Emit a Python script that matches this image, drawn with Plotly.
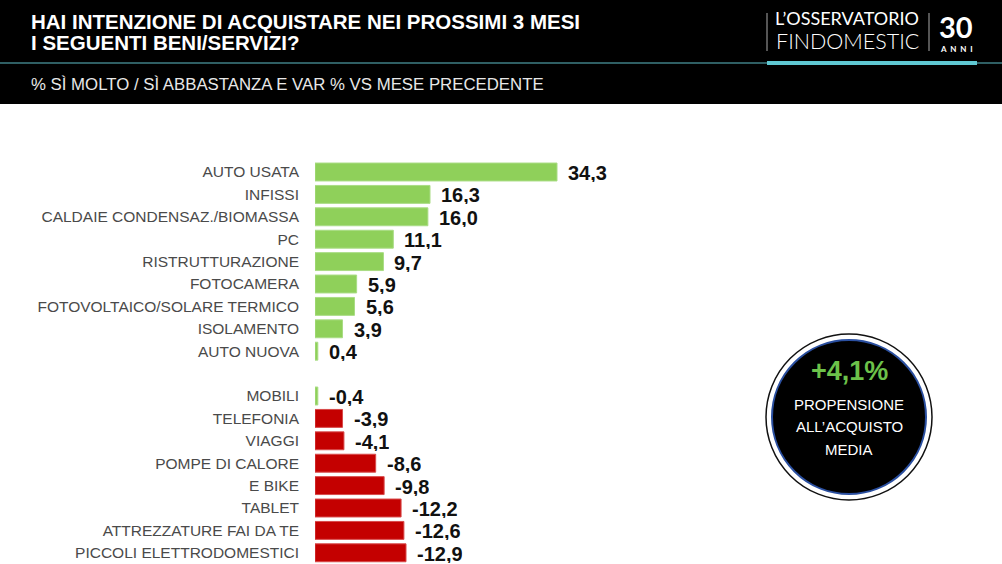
import plotly.graph_objects as go

# ---------------- data ----------------
categories = [
    "AUTO USATA", "INFISSI", "CALDAIE CONDENSAZ./BIOMASSA", "PC",
    "RISTRUTTURAZIONE", "FOTOCAMERA", "FOTOVOLTAICO/SOLARE TERMICO",
    "ISOLAMENTO", "AUTO NUOVA",
    "MOBILI", "TELEFONIA", "VIAGGI", "POMPE DI CALORE", "E BIKE",
    "TABLET", "ATTREZZATURE FAI DA TE", "PICCOLI ELETTRODOMESTICI",
]
values = [34.3, 16.3, 16.0, 11.1, 9.7, 5.9, 5.6, 3.9, 0.4,
          -0.4, -3.9, -4.1, -8.6, -9.8, -12.2, -12.6, -12.9]
bar_colors = ["#8fd05a"] * 10 + ["#c40000"] * 7
# row slot of each category (slot 9 is an empty spacer row)
slots = list(range(9)) + list(range(10, 18))

title_lines = ["HAI INTENZIONE DI ACQUISTARE NEI PROSSIMI 3 MESI",
               "I SEGUENTI BENI/SERVIZI?"]
subtitle = "% SÌ MOLTO / SÌ ABBASTANZA E VAR % VS MESE PRECEDENTE"
kpi_value = "+4,1%"
kpi_lines = ["PROPENSIONE", "ALL’ACQUISTO", "MEDIA"]

W, H = 1002, 564


def fmt(v):
    return f"{v:.1f}".replace(".", ",")


lengths = [abs(v) for v in values]
edge_colors = ["#a9dc84" if c == "#8fd05a" else "#d84a4a" for c in bar_colors]

fig = go.Figure()
fig.add_trace(go.Bar(
    x=lengths, y=slots, orientation="h",
    marker=dict(color=bar_colors, line=dict(color=edge_colors, width=1)),
    width=0.8, hoverinfo="skip",
))

# value labels
for L, s, v in zip(lengths, slots, values):
    fig.add_annotation(x=L, y=s, xref="x", yref="y", text=fmt(v),
                       showarrow=False, xanchor="left", yanchor="middle",
                       xshift=9, yshift=-1, height=18,
                       font=dict(family="Liberation Sans, Arial", size=20,
                                 color="#111111", weight="bold"))

# axis geometry
x0_px, px_per_unit = 315, 242 / 34.3
row0_px, row_h = 172, 22.4
n_rows = 18
y_top_px = row0_px - row_h / 2
y_bot_px = y_top_px + n_rows * row_h

fig.update_xaxes(domain=[x0_px / W, 1], range=[0, (W - x0_px) / px_per_unit],
                 visible=False, fixedrange=True)
fig.update_yaxes(domain=[1 - y_bot_px / H, 1 - y_top_px / H],
                 range=[n_rows - 0.5, -0.5],
                 tickvals=slots, ticktext=categories,
                 showgrid=False, zeroline=False, showline=False,
                 ticks="", ticklabelstandoff=15,
                 tickfont=dict(family="Liberation Sans, Arial", size=15.5,
                               color="#4a4a4a"),
                 fixedrange=True)

shapes = []
# header band
shapes.append(dict(type="rect", xref="paper", yref="paper",
                   x0=0, x1=1, y0=1 - 104 / H, y1=1,
                   fillcolor="#000000", line=dict(width=0), layer="below"))
# thin divider line
shapes.append(dict(type="line", xref="paper", yref="paper",
                   x0=0, x1=1, y0=1 - 63 / H, y1=1 - 63 / H,
                   line=dict(color="#3f7f86", width=1.5)))
# teal logo bar
shapes.append(dict(type="line", xref="paper", yref="paper",
                   x0=767 / W, x1=977 / W, y0=1 - 63 / H, y1=1 - 63 / H,
                   line=dict(color="#5fc8d2", width=4)))
# logo separators
for xs in (767, 929):
    shapes.append(dict(type="line", xref="paper", yref="paper",
                       x0=xs / W, x1=xs / W, y0=1 - 13 / H, y1=1 - 51 / H,
                       line=dict(color="#aaaaaa", width=1)))
# KPI circle
cx, cy = 849, 417
for r, fill, lc, lw in [(83, "#ffffff", "#111111", 1.5),
                        (77, "#000000", "#2a4fa0", 2)]:
    shapes.append(dict(type="circle", xref="paper", yref="paper",
                       x0=(cx - r) / W, x1=(cx + r) / W,
                       y0=1 - (cy + r) / H, y1=1 - (cy - r) / H,
                       fillcolor=fill, line=dict(color=lc, width=lw)))

annotations = []
for i, t in enumerate(title_lines):
    annotations.append(dict(x=29 / W, y=1 - (21 + i * 21) / H, xref="paper",
                            yref="paper", text=t, showarrow=False,
                            xanchor="left", yanchor="middle",
                            font=dict(family="Liberation Sans, Arial", size=20.5,
                                      color="#ffffff", weight="bold")))
annotations.append(dict(x=29 / W, y=1 - 84 / H, xref="paper", yref="paper",
                        text=subtitle, showarrow=False, xanchor="left",
                        yanchor="middle",
                        font=dict(family="Liberation Sans, Arial",
                                  size=16.8, color="#e8e8e8")))
# logo text
annotations.append(dict(x=847 / W, y=1 - 17.5 / H, xref="paper", yref="paper",
                        text="L’OSSERVATORIO", showarrow=False,
                        xanchor="center", yanchor="middle",
                        font=dict(family="Lato, Open Sans", size=18,
                                  color="#ffffff")))
annotations.append(dict(x=847 / W, y=1 - 41.5 / H, xref="paper", yref="paper",
                        text="FINDOMESTIC", showarrow=False,
                        xanchor="center", yanchor="middle",
                        font=dict(family="Lato, Open Sans", size=21.5,
                                  color="#ffffff", weight=300)))
annotations.append(dict(x=956 / W, y=1 - 27 / H, xref="paper", yref="paper",
                        text="30", showarrow=False,
                        xanchor="center", yanchor="middle",
                        font=dict(family="Lato, Open Sans", size=29,
                                  color="#ffffff", weight="bold")))
annotations.append(dict(x=956 / W, y=1 - 49.5 / H, xref="paper", yref="paper",
                        text="A&nbsp;&nbsp;N&nbsp;&nbsp;N&nbsp;&nbsp;I",
                        showarrow=False,
                        xanchor="center", yanchor="middle",
                        font=dict(family="Lato, Open Sans", size=8,
                                  color="#ffffff", weight="bold")))
# KPI text
annotations.append(dict(x=cx / W, y=1 - 371 / H, xref="paper", yref="paper",
                        text=kpi_value, showarrow=False,
                        xanchor="center", yanchor="middle",
                        font=dict(family="Liberation Sans, Arial", size=27,
                                  color="#6cc24a", weight="bold")))
for i, t in enumerate(kpi_lines):
    annotations.append(dict(x=cx / W, y=1 - (404 + i * 22.5) / H, xref="paper",
                            yref="paper", text=t, showarrow=False,
                            xanchor="center", yanchor="middle",
                            font=dict(family="Liberation Sans, Arial",
                                      size=15, color="#ffffff")))

fig.update_layout(
    width=W, height=H, margin=dict(l=0, r=0, t=0, b=0),
    paper_bgcolor="#ffffff", plot_bgcolor="rgba(0,0,0,0)",
    showlegend=False, bargap=0.2,
    shapes=shapes, annotations=fig.layout.annotations + tuple(annotations),
)

fig.write_html(
    "out.html",
    config={"displayModeBar": False},
    post_script="document.body.style.margin='0';document.body.style.overflow='hidden';",
)
